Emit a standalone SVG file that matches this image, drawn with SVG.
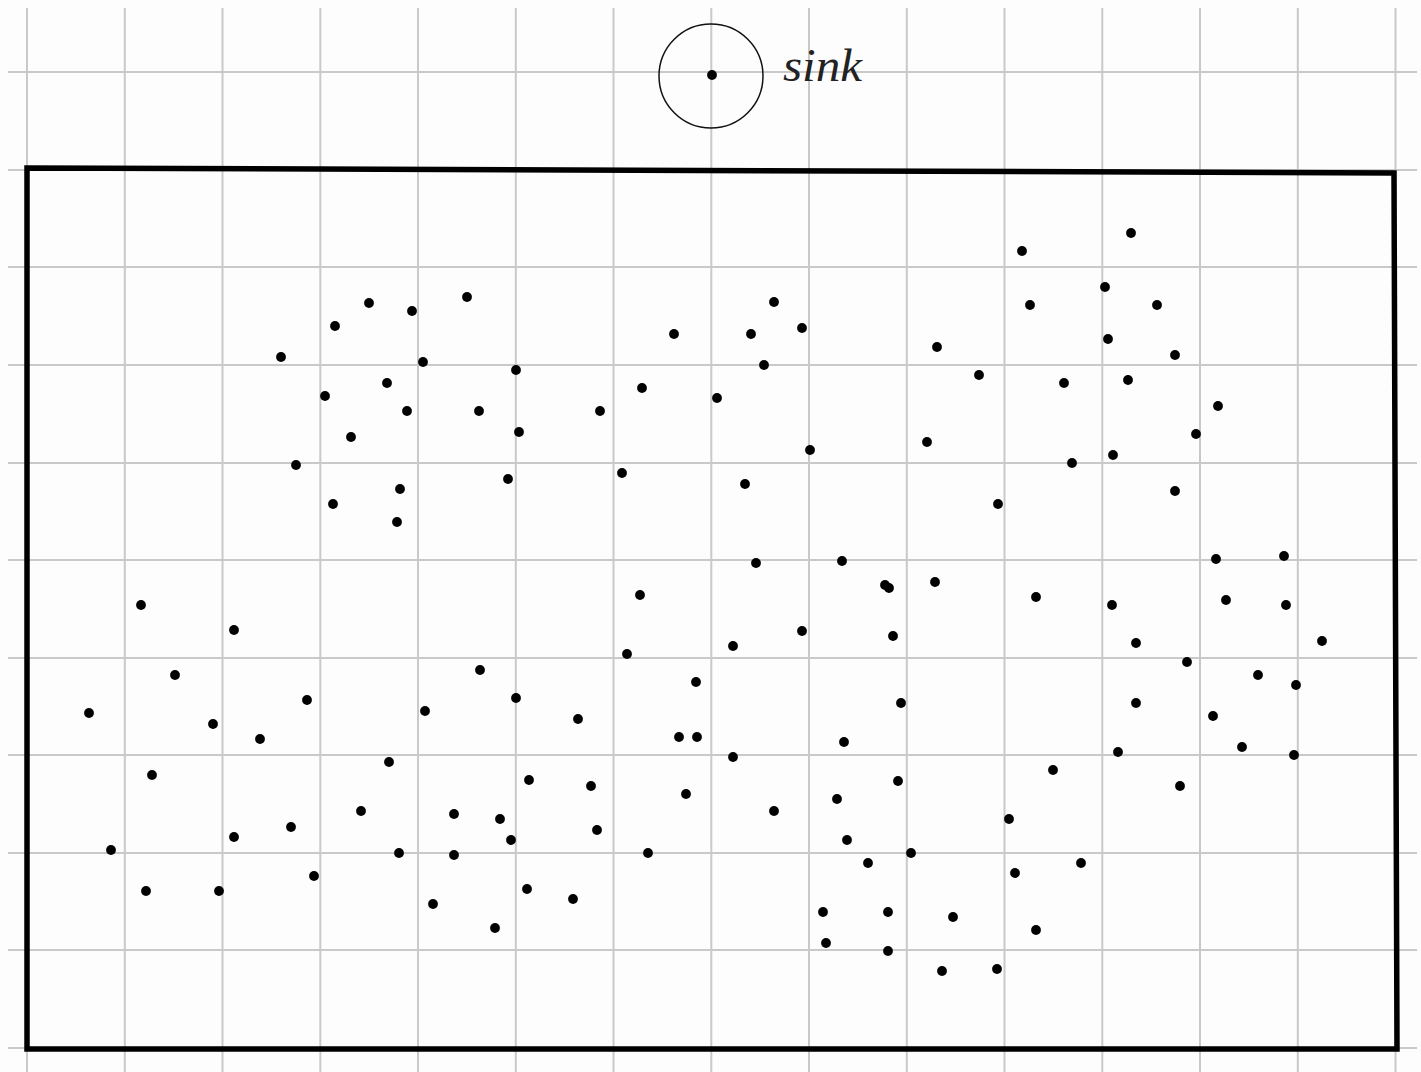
<svg xmlns="http://www.w3.org/2000/svg" width="1421" height="1072" viewBox="0 0 1421 1072">
<style>
.g{stroke:#c9c9c9;stroke-width:2;fill:none}
.d{fill:#000}
.lbl{font-family:"Liberation Serif",serif;font-style:italic;font-size:46px;fill:#222}
</style>
<defs><circle id="p" r="4.9"/></defs>
<rect width="1421" height="1072" fill="#fdfdfd"/>
<g id="grid" class="g">
<path d="M27,8V1072M124.8,8V1072M222.5,8V1072M320.3,8V1072M418,8V1072M515.8,8V1072M613.5,8V1072M711.3,8V1072M809,8V1072M906.8,8V1072M1004.5,8V1072M1102.3,8V1072M1200,8V1072M1297.8,8V1072M1395.5,8V1072"/>
<path d="M8,72H1417M8,170H1417M8,267H1417M8,365H1417M8,463H1417M8,560H1417M8,658H1417M8,755H1417M8,853H1417M8,950H1417M8,1048H1417"/>
</g>
<g id="field">
<path d="M27,168L1394,173L1397,1049L27,1049Z" fill="none" stroke="#000" stroke-width="5.5" stroke-linejoin="miter"/>
</g>
<g id="sink">
<circle cx="711" cy="76" r="52" fill="none" stroke="#111" stroke-width="1.5"/>
<circle cx="712" cy="75" r="4.9" class="d"/>
<text class="lbl" x="783" y="81" textLength="79" lengthAdjust="spacingAndGlyphs">sink</text>
</g>
<g id="nodes" class="d">
<use href="#p" x="281" y="357"/><use href="#p" x="335" y="326"/><use href="#p" x="369" y="303"/><use href="#p" x="412" y="311"/><use href="#p" x="467" y="297"/><use href="#p" x="423" y="362"/><use href="#p" x="387" y="383"/><use href="#p" x="325" y="396"/><use href="#p" x="407" y="411"/><use href="#p" x="479" y="411"/><use href="#p" x="516" y="370"/><use href="#p" x="519" y="432"/><use href="#p" x="351" y="437"/><use href="#p" x="296" y="465"/><use href="#p" x="333" y="504"/><use href="#p" x="400" y="489"/><use href="#p" x="397" y="522"/><use href="#p" x="508" y="479"/>
<use href="#p" x="674" y="334"/><use href="#p" x="751" y="334"/><use href="#p" x="774" y="302"/><use href="#p" x="802" y="328"/><use href="#p" x="764" y="365"/><use href="#p" x="642" y="388"/><use href="#p" x="600" y="411"/><use href="#p" x="717" y="398"/><use href="#p" x="622" y="473"/><use href="#p" x="745" y="484"/><use href="#p" x="810" y="450"/>
<use href="#p" x="1022" y="251"/><use href="#p" x="1131" y="233"/><use href="#p" x="1030" y="305"/><use href="#p" x="1105" y="287"/><use href="#p" x="1157" y="305"/><use href="#p" x="937" y="347"/><use href="#p" x="979" y="375"/><use href="#p" x="1108" y="339"/><use href="#p" x="1175" y="355"/><use href="#p" x="1064" y="383"/><use href="#p" x="1128" y="380"/><use href="#p" x="927" y="442"/><use href="#p" x="1072" y="463"/><use href="#p" x="1113" y="455"/><use href="#p" x="1196" y="434"/><use href="#p" x="1218" y="406"/><use href="#p" x="998" y="504"/><use href="#p" x="1175" y="491"/>
<use href="#p" x="1216" y="559"/><use href="#p" x="1284" y="556"/><use href="#p" x="1226" y="600"/><use href="#p" x="1286" y="605"/><use href="#p" x="1322" y="641"/><use href="#p" x="1112" y="605"/><use href="#p" x="1036" y="597"/><use href="#p" x="1136" y="643"/><use href="#p" x="1187" y="662"/><use href="#p" x="1258" y="675"/><use href="#p" x="1296" y="685"/><use href="#p" x="1136" y="703"/><use href="#p" x="1213" y="716"/><use href="#p" x="1242" y="747"/><use href="#p" x="1294" y="755"/><use href="#p" x="1118" y="752"/><use href="#p" x="1180" y="786"/>
<use href="#p" x="935" y="582"/><use href="#p" x="885" y="585"/><use href="#p" x="889" y="588"/><use href="#p" x="893" y="636"/><use href="#p" x="842" y="561"/><use href="#p" x="756" y="563"/><use href="#p" x="802" y="631"/><use href="#p" x="733" y="646"/><use href="#p" x="640" y="595"/><use href="#p" x="627" y="654"/><use href="#p" x="696" y="682"/>
<use href="#p" x="141" y="605"/><use href="#p" x="234" y="630"/><use href="#p" x="175" y="675"/><use href="#p" x="89" y="713"/><use href="#p" x="213" y="724"/><use href="#p" x="260" y="739"/><use href="#p" x="307" y="700"/><use href="#p" x="152" y="775"/><use href="#p" x="111" y="850"/><use href="#p" x="146" y="891"/><use href="#p" x="219" y="891"/><use href="#p" x="234" y="837"/><use href="#p" x="291" y="827"/><use href="#p" x="314" y="876"/><use href="#p" x="361" y="811"/><use href="#p" x="389" y="762"/><use href="#p" x="399" y="853"/><use href="#p" x="425" y="711"/><use href="#p" x="433" y="904"/><use href="#p" x="454" y="814"/><use href="#p" x="454" y="855"/><use href="#p" x="480" y="670"/><use href="#p" x="500" y="819"/><use href="#p" x="511" y="840"/><use href="#p" x="516" y="698"/><use href="#p" x="529" y="780"/><use href="#p" x="527" y="889"/><use href="#p" x="495" y="928"/><use href="#p" x="578" y="719"/><use href="#p" x="591" y="786"/><use href="#p" x="597" y="830"/><use href="#p" x="573" y="899"/><use href="#p" x="648" y="853"/>
<use href="#p" x="679" y="737"/><use href="#p" x="697" y="737"/><use href="#p" x="686" y="794"/><use href="#p" x="733" y="757"/><use href="#p" x="774" y="811"/><use href="#p" x="844" y="742"/><use href="#p" x="901" y="703"/><use href="#p" x="898" y="781"/><use href="#p" x="837" y="799"/><use href="#p" x="847" y="840"/><use href="#p" x="868" y="863"/><use href="#p" x="911" y="853"/><use href="#p" x="823" y="912"/><use href="#p" x="826" y="943"/><use href="#p" x="888" y="912"/><use href="#p" x="888" y="951"/><use href="#p" x="953" y="917"/><use href="#p" x="942" y="971"/><use href="#p" x="997" y="969"/><use href="#p" x="1009" y="819"/><use href="#p" x="1015" y="873"/><use href="#p" x="1036" y="930"/><use href="#p" x="1053" y="770"/><use href="#p" x="1081" y="863"/>
</g>
</svg>
